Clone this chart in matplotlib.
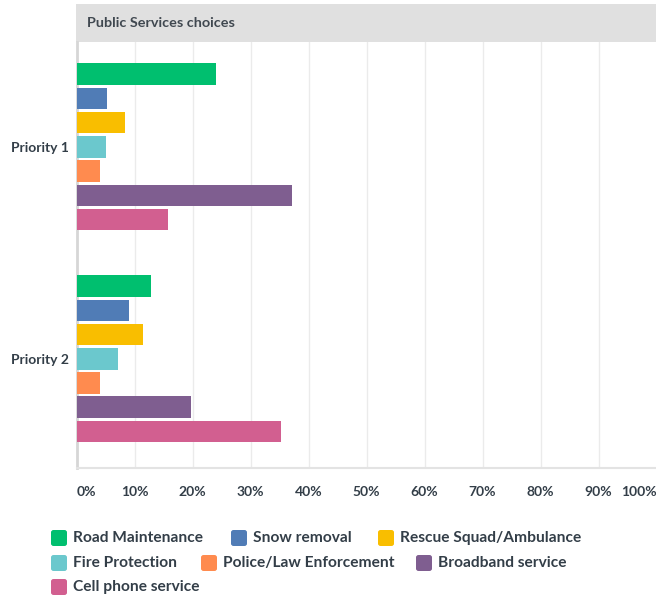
import matplotlib.pyplot as plt
from matplotlib.patches import FancyBboxPatch
import numpy as np

plt.rcParams['font.family'] = ['Lato', 'DejaVu Sans']

# data
groups = ['Priority 1', 'Priority 2']
services = ['Road Maintenance', 'Snow removal', 'Rescue Squad/Ambulance',
            'Fire Protection', 'Police/Law Enforcement', 'Broadband service',
            'Cell phone service']
priority1 = [24.0, 5.3, 8.3, 5.0, 4.0, 37.2, 15.7]
priority2 = [12.9, 9.1, 11.4, 7.2, 4.1, 19.8, 35.3]
colors = ['#00bf6f', '#507cb6', '#f9be00', '#6bc8cd', '#ff8b4f', '#7f5e90', '#d25f90']
ticks = [0, 10, 20, 30, 40, 50, 60, 70, 80, 90, 100]

txt = '#333e48'
W, H = 656, 599
fig = plt.figure(figsize=(W / 100, H / 100), dpi=100)

# gray title band over the plot area
band = fig.add_axes([76 / W, (H - 42) / H, 580 / W, 38 / H])
band.set_facecolor('#e0e0e0')
band.set_xticks([]); band.set_yticks([])
for s in band.spines.values():
    s.set_visible(False)
band.text(11 / 580, 0.5, 'Public Services choices', transform=band.transAxes,
          va='center', ha='left', fontsize=10.4, fontweight='bold', color='#404850')

ax = fig.add_axes([76.5 / W, (H - 468) / H, 580 / W, 426 / H])
pitch = 0.1143
bh = 0.102
for g, vals in enumerate([priority1, priority2]):
    for i, v in enumerate(vals):
        y = g + (i - 3) * pitch
        ax.barh(y, v, height=bh, color=colors[i], zorder=3)

ax.set_xlim(0, 100)
ax.set_ylim(1.515, -0.495)
ax.set_yticks([0, 1])
ax.set_yticklabels(groups, fontsize=10, fontweight='bold', color=txt)
ax.tick_params(axis='y', length=0, pad=5.5)
ax.set_xticks(ticks)
ax.set_xticklabels([f'{t}%' for t in ticks], fontsize=10, fontweight='bold', color=txt)
ax.tick_params(axis='x', length=0, pad=13)
lbls = ax.get_xticklabels()
lbls[0].set_ha('left')
lbls[-1].set_ha('right')
ax.grid(axis='x', color='#ebebeb', linewidth=1, zorder=0)
for s in ['top', 'right']:
    ax.spines[s].set_visible(False)
ax.spines['left'].set_color('#d6d6d6')
ax.spines['left'].set_linewidth(2)
ax.spines['bottom'].set_color('#e3e3e3')
ax.spines['bottom'].set_linewidth(1.5)

# legend, laid out in rows
legend_pos = [(50, 538), (230, 538), (377, 538),
              (50, 563), (200, 563), (415, 563),
              (50, 587)]
for (x, y), name, c in zip(legend_pos, services, colors):
    sq = FancyBboxPatch(((x + 1) / W, (H - y - 8) / H), 16 / W, 16 / H,
                        boxstyle='round,pad=0,rounding_size=0.004',
                        transform=fig.transFigure, facecolor=c, edgecolor='none')
    fig.patches.append(sq)
    fig.text((x + 23) / W, (H - y) / H, name, fontsize=11.2, fontweight='bold',
             color=txt, va='center', ha='left')

fig.savefig('out.png', dpi=100)
